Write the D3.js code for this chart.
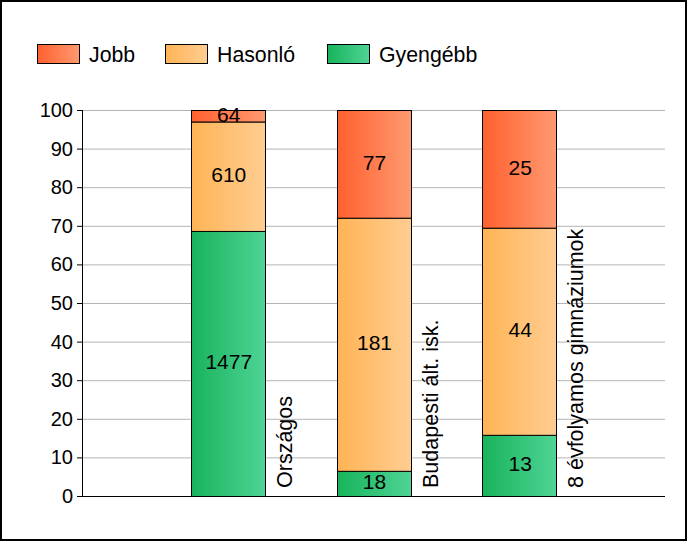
<!DOCTYPE html>
<html>
<head>
<meta charset="utf-8">
<script src="https://cdn.jsdelivr.net/npm/d3@7"></script>
<style>
  body { margin: 0; background: #fff; }
  svg text { font-family: "Liberation Sans", Arial, sans-serif; fill: #000; }
</style>
</head>
<body>
<svg id="chart" width="687" height="541"></svg>
<script>
// categories and counts per series (labels show counts, bars show share in %)
var categories = ['Országos', 'Budapesti ált. isk.', '8 évfolyamos gimnáziumok']
var series = ['Gyengébb', 'Hasonló', 'Jobb']
var gyengebb = [1477, 18, 13]
var hasonlo = [610, 181, 44]
var jobb = [64, 77, 25]
var yTicks = [0, 10, 20, 30, 40, 50, 60, 70, 80, 90, 100]
var legendOrder = ['Jobb', 'Hasonló', 'Gyengébb']

var colors = {
  'Jobb': ['#ff6030', '#ff9a70'],
  'Hasonló': ['#ffb455', '#ffcd92'],
  'Gyengébb': ['#18b35c', '#4fd495']
}

var svg = d3.select('#chart')
var margin = { top: 110, left: 82, right: 22, bottom: 45 }
var width = +svg.attr('width') - margin.left - margin.right
var height = +svg.attr('height') - margin.top - margin.bottom

// gradients
var defs = svg.append('defs')
series.forEach(function (s, i) {
  var g = defs.append('linearGradient').attr('id', 'grad' + i)
      .attr('x1', '0%').attr('x2', '100%').attr('y1', '0%').attr('y2', '0%')
  g.append('stop').attr('offset', '0%').attr('stop-color', colors[s][0])
  g.append('stop').attr('offset', '100%').attr('stop-color', colors[s][1])
})

// outer frame
svg.append('rect').attr('x', 1).attr('y', 1).attr('width', 685).attr('height', 539)
    .attr('fill', '#fff').attr('stroke', '#000').attr('stroke-width', 2)

var rows = categories.map(function (c, i) {
  return { cat: c, 'Gyengébb': gyengebb[i], 'Hasonló': hasonlo[i], 'Jobb': jobb[i] }
})
var stack = d3.stack().keys(series).offset(d3.stackOffsetExpand)
var layers = stack(rows)

var x = d3.scalePoint().domain(['_a'].concat(categories, ['_b'])).range([0, width])
var y = d3.scaleLinear().domain([0, 100]).range([height, 0])
var barW = 74

var g = svg.append('g').attr('transform', 'translate(' + margin.left + ',' + margin.top + ')')

// grid
g.append('g').selectAll('line').data(yTicks.slice(1)).enter().append('line')
    .attr('x1', 0).attr('x2', width)
    .attr('y1', function (d) { return y(d) + 0.5 }).attr('y2', function (d) { return y(d) + 0.5 })
    .attr('stroke', '#b4b4b4').attr('stroke-width', 1)

// y axis
var yAxis = g.append('g').attr('class', 'axis axis--y')
    .call(d3.axisLeft(y).tickValues(yTicks).tickSize(5).tickPadding(4))
yAxis.select('.domain').remove()
yAxis.selectAll('.tick line').attr('stroke', '#000')
yAxis.selectAll('.tick text').attr('font-size', 20).attr('font-family', '"Liberation Sans", Arial, sans-serif')
g.append('line').attr('x1', 0.5).attr('x2', 0.5).attr('y1', 0).attr('y2', height).attr('stroke', '#000')
g.append('line').attr('x1', 0).attr('x2', width).attr('y1', height + 0.5).attr('y2', height + 0.5).attr('stroke', '#000')

// bars
layers.forEach(function (layer, li) {
  var key = layer.key
  var grp = g.append('g')
  grp.selectAll('rect').data(layer).enter().append('rect')
      .attr('x', function (d) { return Math.round(x(d.data.cat) - barW / 2) + 0.5 })
      .attr('y', function (d) { return y(d[1] * 100) + 0.5 })
      .attr('width', barW)
      .attr('height', function (d) { return y(d[0] * 100) - y(d[1] * 100) })
      .attr('fill', 'url(#grad' + li + ')')
      .attr('stroke', '#000').attr('stroke-width', 1)
  grp.selectAll('text').data(layer).enter().append('text')
      .attr('x', function (d) { return x(d.data.cat) + 1 })
      .attr('y', function (d) { return (y(d[0] * 100) + y(d[1] * 100)) / 2 })
      .attr('dy', '0.28em')
      .attr('text-anchor', 'middle')
      .attr('font-size', 21)
      .text(function (d) { return d.data[key] })
})

// rotated category labels
g.append('g').selectAll('text').data(categories).enter().append('text')
    .attr('transform', function (d) { return 'translate(' + (x(d) + barW / 2 + 27) + ',' + (height - 8) + ') rotate(-90)' })
    .attr('font-size', 21.5)
    .text(function (d) { return d })

// legend
var legendX = [37, 165, 327]
var lg = svg.append('g')
legendOrder.forEach(function (s, i) {
  var gi = series.indexOf(s)
  lg.append('rect').attr('x', legendX[i] + 0.5).attr('y', 44.5).attr('width', 42).attr('height', 19)
      .attr('fill', 'url(#grad' + gi + ')').attr('stroke', '#000')
  lg.append('text').attr('x', legendX[i] + 52).attr('y', 62).attr('font-size', 21.3).text(s)
})
</script>
</body>
</html>
